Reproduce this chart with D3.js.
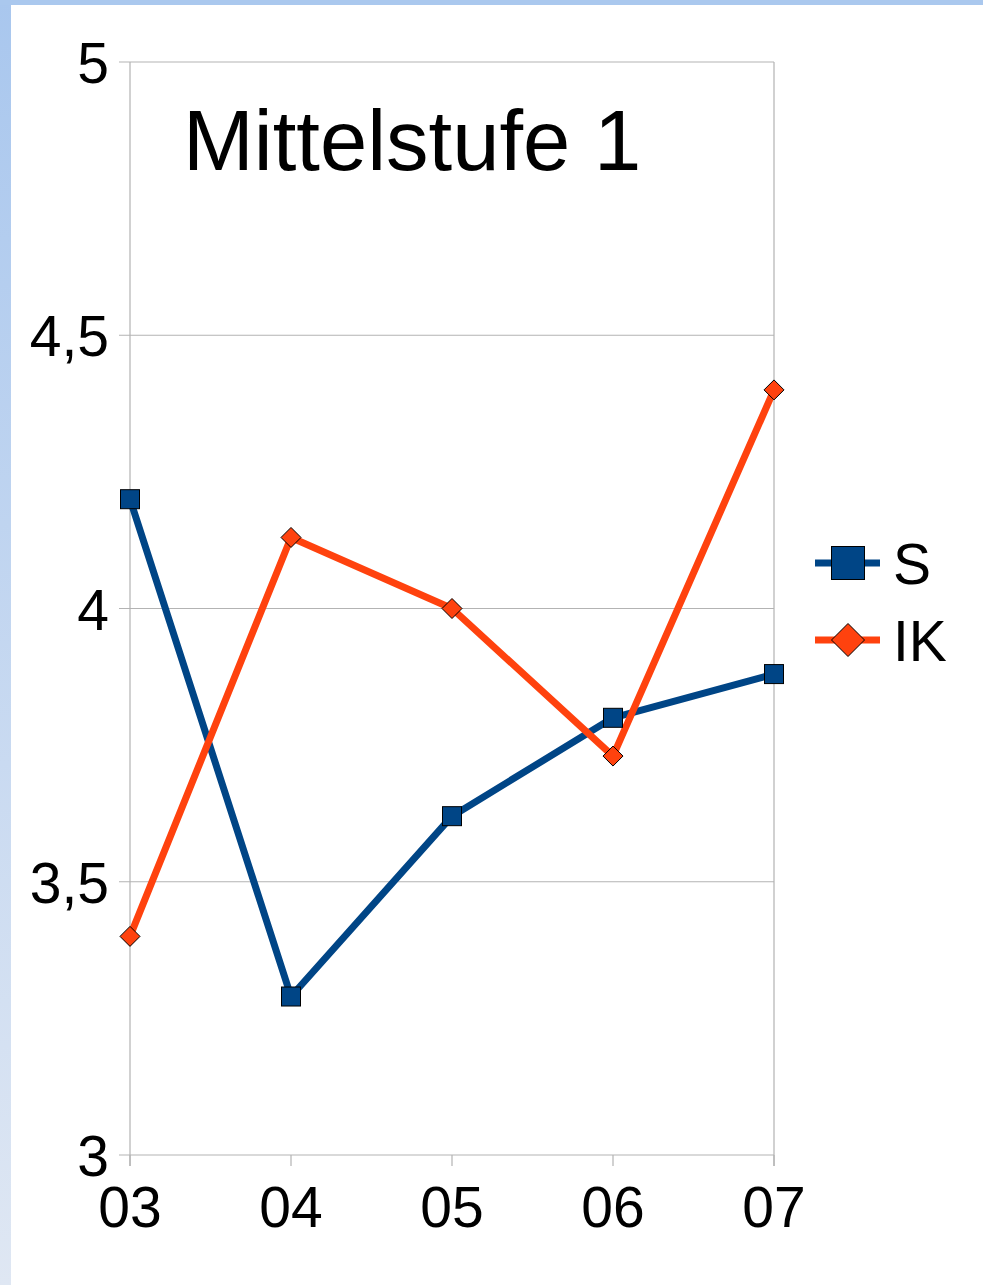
<!DOCTYPE html>
<html>
<head>
<meta charset="utf-8">
<script src="https://cdn.jsdelivr.net/npm/d3@7"></script>
<style>
  html, body { margin: 0; padding: 0; background: #fff; }
  svg { display: block; font-family: "Liberation Sans", Arial, sans-serif; }
</style>
</head>
<body>
<script>
const YEARS = ['03', '04', '05', '06', '07'];
const S_VALUES = [4.2, 3.29, 3.62, 3.8, 3.88];
const IK_VALUES = [3.4, 4.13, 4.0, 3.73, 4.4];
const Y_TICKS = [3, 3.5, 4, 4.5, 5];
const TITLE = 'Mittelstufe 1';

const width = 983, height = 1285;
const plot = { left: 130, right: 774, top: 62, bottom: 1155 };

let svg = d3.select('body').append('svg')
            .attr('width', width)
            .attr('height', height);

// window frame
let defs = svg.append('defs');
let grad = defs.append('linearGradient')
               .attr('id', 'side')
               .attr('x1', 0).attr('y1', 0).attr('x2', 0).attr('y2', 1);
grad.append('stop').attr('offset', 0).attr('stop-color', '#a9c7ee');
grad.append('stop').attr('offset', 1).attr('stop-color', '#dfe7f3');

svg.append('rect').attr('x', 0).attr('y', 0).attr('width', 11).attr('height', height)
   .attr('fill', 'url(#side)');
svg.append('rect').attr('x', 0).attr('y', 0).attr('width', width).attr('height', 5)
   .attr('fill', '#aac8ee');

let x = d3.scalePoint()
          .domain(YEARS)
          .range([plot.left, plot.right]);

let y = d3.scaleLinear()
          .domain([3, 5])
          .range([plot.bottom, plot.top]);

// grid
svg.append('g').selectAll('line')
   .data(Y_TICKS)
   .join('line')
   .attr('x1', plot.left - 11).attr('x2', plot.right)
   .attr('y1', d => y(d)).attr('y2', d => y(d))
   .attr('stroke', '#b3b3b3').attr('stroke-width', 1.2);

// plot frame
svg.append('line').attr('x1', plot.left).attr('x2', plot.left)
   .attr('y1', plot.top).attr('y2', plot.bottom + 11)
   .attr('stroke', '#b3b3b3').attr('stroke-width', 1.2);
svg.append('line').attr('x1', plot.right).attr('x2', plot.right)
   .attr('y1', plot.top).attr('y2', plot.bottom + 11)
   .attr('stroke', '#b3b3b3').attr('stroke-width', 1.2);

// x ticks
svg.append('g').selectAll('line')
   .data(YEARS)
   .join('line')
   .attr('x1', d => x(d)).attr('x2', d => x(d))
   .attr('y1', plot.bottom).attr('y2', plot.bottom + 11)
   .attr('stroke', '#b3b3b3').attr('stroke-width', 1.2);

let fmt = d => String(d).replace('.', ',');

svg.append('g').selectAll('text')
   .data(Y_TICKS)
   .join('text')
   .attr('x', 109)
   .attr('y', d => y(d) + 21)
   .attr('text-anchor', 'end')
   .attr('font-size', 57)
   .text(fmt);

svg.append('g').selectAll('text')
   .data(YEARS)
   .join('text')
   .attr('x', d => x(d))
   .attr('y', 1227)
   .attr('text-anchor', 'middle')
   .attr('font-size', 57)
   .text(d => d);

svg.append('text')
   .attr('x', 183).attr('y', 170)
   .attr('font-size', 85)
   .text(TITLE);

let line = d3.line()
             .x((d, i) => x(YEARS[i]))
             .y(d => y(d));

let series = [
  { name: 'S', values: S_VALUES, color: '#004586', shape: 'square' },
  { name: 'IK', values: IK_VALUES, color: '#ff420e', shape: 'diamond' }
];

function marker(g, shape, color, size) {
  if (shape === 'square') {
    g.append('rect')
     .attr('x', -size / 2).attr('y', -size / 2)
     .attr('width', size).attr('height', size)
     .attr('fill', color).attr('stroke', '#000').attr('stroke-width', 1);
  } else {
    let h = size / 2;
    g.append('path')
     .attr('d', `M0,${-h}L${h},0L0,${h}L${-h},0Z`)
     .attr('fill', color).attr('stroke', '#000').attr('stroke-width', 1);
  }
}

series.forEach(s => {
  svg.append('path')
     .datum(s.values)
     .attr('d', line)
     .attr('fill', 'none')
     .attr('stroke', s.color)
     .attr('stroke-width', 7)
     .attr('stroke-linejoin', 'round');
});

series.forEach(s => {
  s.values.forEach((v, i) => {
    let g = svg.append('g').attr('transform', `translate(${x(YEARS[i])},${y(v)})`);
    marker(g, s.shape, s.color, s.shape === 'square' ? 19 : 20);
  });
});

// legend
series.forEach((s, i) => {
  let cy = 563 + i * 77;
  let g = svg.append('g').attr('transform', `translate(0,${cy})`);
  g.append('line').attr('x1', 815).attr('x2', 880).attr('y1', 0).attr('y2', 0)
   .attr('stroke', s.color).attr('stroke-width', 7);
  let m = g.append('g').attr('transform', 'translate(848,0)');
  marker(m, s.shape, s.color, 33);
  g.append('text')
   .attr('x', 893).attr('y', 21)
   .attr('font-size', 57)
   .text(s.name);
});
</script>
</body>
</html>
